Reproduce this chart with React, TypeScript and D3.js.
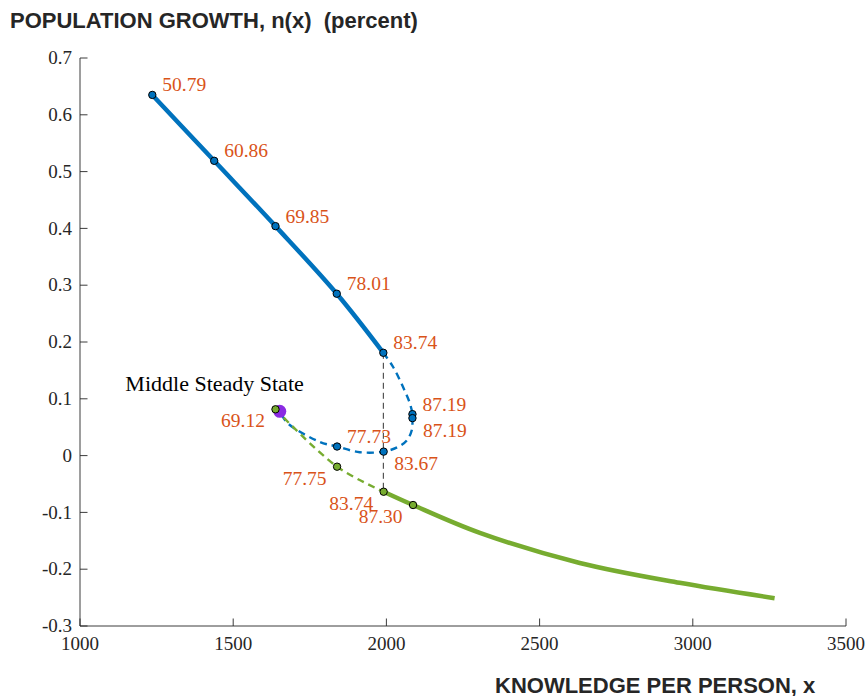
import * as d3 from "d3";

// values: knowledge per person (x) vs population growth n(x)

// upper branch (solid blue) with its marked points
const upperX = [1236, 1438, 1638, 1838, 1990];
const upperN = [0.635, 0.519, 0.404, 0.285, 0.181];
const upperLabels = ["50.79", "60.86", "69.85", "78.01", "83.74"];

// middle branch (dashed blue), traced from 83.74 round to the middle steady state
const midX = [1990, 2022, 2054, 2076, 2085, 2085, 2083, 2067, 2037, 1991, 1913, 1839, 1783, 1678, 1652];
const midN = [0.181, 0.156, 0.121, 0.093, 0.073, 0.066, 0.045, 0.027, 0.015, 0.007, 0.006, 0.016, 0.024, 0.057, 0.078];

// marked points on the dashed blue branch
const midPtX = [2085, 2085, 1991, 1839];
const midPtN = [0.073, 0.066, 0.007, 0.016];
const midLabels = ["87.19", "87.19", "83.67", "77.73"];
const midPlace = ["ur", "lr", "lr", "ur"];

// lower branch: dashed part then solid part
const lowDashX = [1638, 1839, 1991];
const lowDashN = [0.0815, -0.0195, -0.0636];
const lowX = [1991, 2087, 2305, 2631, 2957, 3267];
const lowN = [-0.0636, -0.087, -0.136, -0.189, -0.224, -0.251];

const lowPtX = [1638, 1839, 1991, 2087];
const lowPtN = [0.0815, -0.0195, -0.0636, -0.087];
const lowLabels = ["69.12", "77.75", "83.74", "87.30"];

const steadyX = 1652;
const steadyN = 0.078;

const xTicks = [1000, 1500, 2000, 2500, 3000, 3500];
const yTicks = [-0.3, -0.2, -0.1, 0, 0.1, 0.2, 0.3, 0.4, 0.5, 0.6, 0.7];
const yTickLabels = ["-0.3", "-0.2", "-0.1", "0", "0.1", "0.2", "0.3", "0.4", "0.5", "0.6", "0.7"];

const W = 868;
const H = 696;
const BLUE = "#0072BD";
const GREEN = "#77AC30";
const ORANGE = "#D95319";
const PURPLE = "#8a2be2";
const AXIS = "#262626";
const SERIF = "'Liberation Serif', 'Times New Roman', serif";
const SANS = "'Liberation Sans', Arial, Helvetica, sans-serif";

const x = d3.scaleLinear().domain([1000, 3500]).range([80, 846]);
const y = d3.scaleLinear().domain([-0.3, 0.7]).range([626, 58]);

const line = d3
  .line<[number, number]>()
  .x((d) => x(d[0]))
  .y((d) => y(d[1]))
  .curve(d3.curveCatmullRom.alpha(0.5));

const zip = (a: number[], b: number[]) => a.map((v, i) => [v, b[i]] as [number, number]);

// label offsets relative to the marker
const offsets: Record<string, { dx: number; dy: number; anchor: string }> = {
  ur: { dx: 10, dy: -3.5, anchor: "start" },
  lr: { dx: 10.5, dy: 18.5, anchor: "start" },
  ll: { dx: -10.5, dy: 18, anchor: "end" },
};

function Marker({ cx, cy, fill }: { cx: number; cy: number; fill: string }) {
  return <circle cx={cx} cy={cy} r={3.7} fill={fill} stroke="#000" strokeWidth={1} />;
}

function Label({ px, py, text, place }: { px: number; py: number; text: string; place: string }) {
  const o = offsets[place];
  return (
    <text x={px + o.dx} y={py + o.dy} textAnchor={o.anchor} fill={ORANGE} fontFamily={SERIF} fontSize={19.5}>
      {text}
    </text>
  );
}

export default function App() {
  return (
    <svg
      width={W}
      height={H}
      viewBox={`0 0 ${W} ${H}`}
      style={{ position: "absolute", left: 0, top: 0, background: "#fff" }}
    >
      {/* axes */}
      <line x1={80} x2={80} y1={y(0.7)} y2={y(-0.3)} stroke={AXIS} strokeWidth={0.9} />
      <line x1={80} x2={x(3500)} y1={y(-0.3)} y2={y(-0.3)} stroke={AXIS} strokeWidth={0.9} />
      {yTicks.map((t, i) => (
        <g key={"y" + t}>
          <line x1={80} x2={87.5} y1={y(t)} y2={y(t)} stroke={AXIS} strokeWidth={0.9} />
          <text
            x={72}
            y={y(t)}
            dy="0.33em"
            textAnchor="end"
            fill={AXIS}
            fontFamily={SERIF}
            fontSize={19}
          >
            {yTickLabels[i]}
          </text>
        </g>
      ))}
      {xTicks.map((t) => (
        <g key={"x" + t}>
          <line x1={x(t)} x2={x(t)} y1={y(-0.3)} y2={y(-0.3) - 7.5} stroke={AXIS} strokeWidth={0.9} />
          <text x={x(t)} y={649.5} textAnchor="middle" fill={AXIS} fontFamily={SERIF} fontSize={19}>
            {t}
          </text>
        </g>
      ))}

      {/* titles */}
      <text x={10} y={28.3} fill={AXIS} fontFamily={SANS} fontWeight="bold" fontSize={22} style={{ whiteSpace: "pre" }}>
        {"POPULATION GROWTH, n(x)  (percent)"}
      </text>
      <text x={495} y={693.3} fill={AXIS} fontFamily={SANS} fontWeight="bold" fontSize={22}>
        KNOWLEDGE PER PERSON, x
      </text>

      {/* curves */}
      <path d={line(zip(upperX, upperN)) ?? ""} fill="none" stroke={BLUE} strokeWidth={4.5} />
      <path d={line(zip(midX, midN)) ?? ""} fill="none" stroke={BLUE} strokeWidth={2.4} strokeDasharray="7,5" />
      <line
        x1={x(1990)}
        x2={x(1990)}
        y1={y(upperN[upperN.length - 1])}
        y2={y(lowDashN[lowDashN.length - 1])}
        stroke="#333"
        strokeWidth={1}
        strokeDasharray="6,4"
      />
      <path d={line(zip(lowDashX, lowDashN)) ?? ""} fill="none" stroke={GREEN} strokeWidth={2.4} strokeDasharray="7,5" />
      <path d={line(zip(lowX, lowN)) ?? ""} fill="none" stroke={GREEN} strokeWidth={4.5} />

      {/* markers */}
      {upperX.map((v, i) => (
        <Marker key={"u" + i} cx={x(v)} cy={y(upperN[i])} fill={BLUE} />
      ))}
      {midPtX.map((v, i) => (
        <Marker key={"m" + i} cx={x(v)} cy={y(midPtN[i])} fill={BLUE} />
      ))}
      <circle cx={x(steadyX)} cy={y(steadyN)} r={6.5} fill={PURPLE} />
      {lowPtX.map((v, i) => (
        <Marker key={"l" + i} cx={x(v)} cy={y(lowPtN[i])} fill={GREEN} />
      ))}

      {/* value labels */}
      {upperX.map((v, i) => (
        <Label key={"ut" + i} px={x(v)} py={y(upperN[i])} text={upperLabels[i]} place="ur" />
      ))}
      {midPtX.map((v, i) => (
        <Label key={"mt" + i} px={x(v)} py={y(midPtN[i])} text={midLabels[i]} place={midPlace[i]} />
      ))}
      {lowPtX.map((v, i) => (
        <Label key={"lt" + i} px={x(v)} py={y(lowPtN[i])} text={lowLabels[i]} place="ll" />
      ))}
      <text
        x={x(steadyX) + 24}
        y={y(steadyN) - 20}
        textAnchor="end"
        fill="#000"
        fontFamily={SERIF}
        fontSize={22}
      >
        Middle Steady State
      </text>
    </svg>
  );
}
